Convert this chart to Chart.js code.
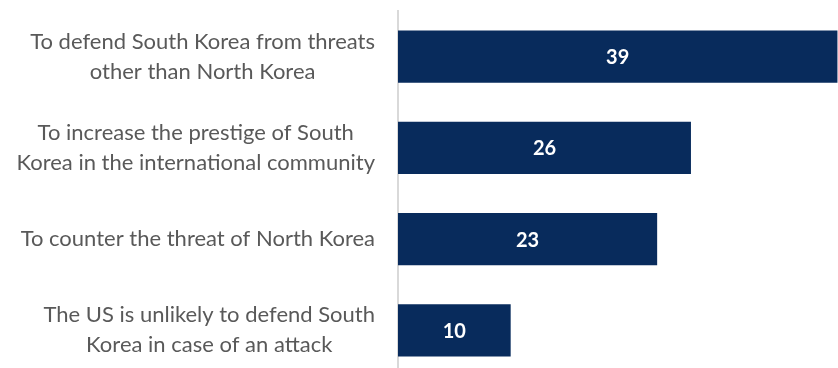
<!DOCTYPE html>
<html>
<head>
<meta charset="utf-8">
<script src="https://cdn.jsdelivr.net/npm/chart.js@4/dist/chart.umd.min.js"></script>
<style>
  html, body { margin: 0; padding: 0; background: #ffffff; overflow: hidden; }
  #wrap { width: 838px; height: 368px; overflow: hidden; position: relative; }
  #box { width: 838px; height: 380px; position: absolute; left: 0; top: 0; }
</style>
</head>
<body>
<div id="wrap"><div id="box"><canvas id="c" width="838" height="380"></canvas></div></div>
<script>
// Reasons given for South Korea acquiring nuclear weapons (%)
const categories = [
  ['To defend South Korea from threats', 'other than North Korea'],
  ['To increase the prestige of South', 'Korea in the international community'],
  ['To counter the threat of North Korea'],
  ['The US is unlikely to defend South', 'Korea in case of an attack']
];
const values = [39, 26, 23, 10];

const LABEL_FONT = '22px Lato, "Liberation Sans", sans-serif';
const VALUE_FONT = 'bold 20px Lato, "Liberation Sans", sans-serif';

// Category labels: each block centred on its own widest line,
// right edge kept a fixed gap from the axis line.
const categoryLabels = {
  id: 'categoryLabels',
  afterDraw(chart) {
    const ctx = chart.ctx;
    const yScale = chart.scales.y;
    const right = chart.chartArea.left - 23;
    const lineH = 30;
    ctx.save();
    ctx.font = LABEL_FONT;
    ctx.fillStyle = '#595959';
    ctx.textAlign = 'center';
    ctx.textBaseline = 'middle';
    categories.forEach((lines, i) => {
      const maxW = Math.max(...lines.map(l => ctx.measureText(l).width));
      const cx = right - maxW / 2;
      const cy = yScale.getPixelForValue(i);
      const startY = cy - (lines.length - 1) * lineH / 2;
      lines.forEach((l, k) => ctx.fillText(l, cx, startY + k * lineH));
    });
    ctx.restore();
  }
};

// Value labels in the middle of each bar
const valueLabels = {
  id: 'valueLabels',
  afterDatasetsDraw(chart) {
    const ctx = chart.ctx;
    const meta = chart.getDatasetMeta(0);
    ctx.save();
    ctx.font = VALUE_FONT;
    ctx.fillStyle = '#ffffff';
    ctx.textAlign = 'center';
    ctx.textBaseline = 'middle';
    meta.data.forEach((bar, i) => {
      ctx.fillText(String(values[i]), (bar.base + bar.x) / 2, bar.y + 1);
    });
    ctx.restore();
  }
};

new Chart(document.getElementById('c'), {
  type: 'bar',
  data: {
    labels: categories,
    datasets: [{
      data: values,
      backgroundColor: '#082b5c',
      borderWidth: 0,
      barPercentage: 0.57,
      categoryPercentage: 1.0
    }]
  },
  options: {
    indexAxis: 'y',
    responsive: false,
    animation: false,
    events: [],
    layout: { padding: { top: 11, bottom: 4, left: 0, right: 0 } },
    plugins: { legend: { display: false }, tooltip: { enabled: false } },
    scales: {
      x: { display: false, min: 0, max: 39.05 },
      y: {
        grid: { display: false, drawTicks: false },
        border: { display: true, color: '#d9d9d9', width: 2 },
        ticks: { display: false },
        afterFit(scale) { scale.width = 398; }
      }
    }
  },
  plugins: [categoryLabels, valueLabels]
});
</script>
</body>
</html>
